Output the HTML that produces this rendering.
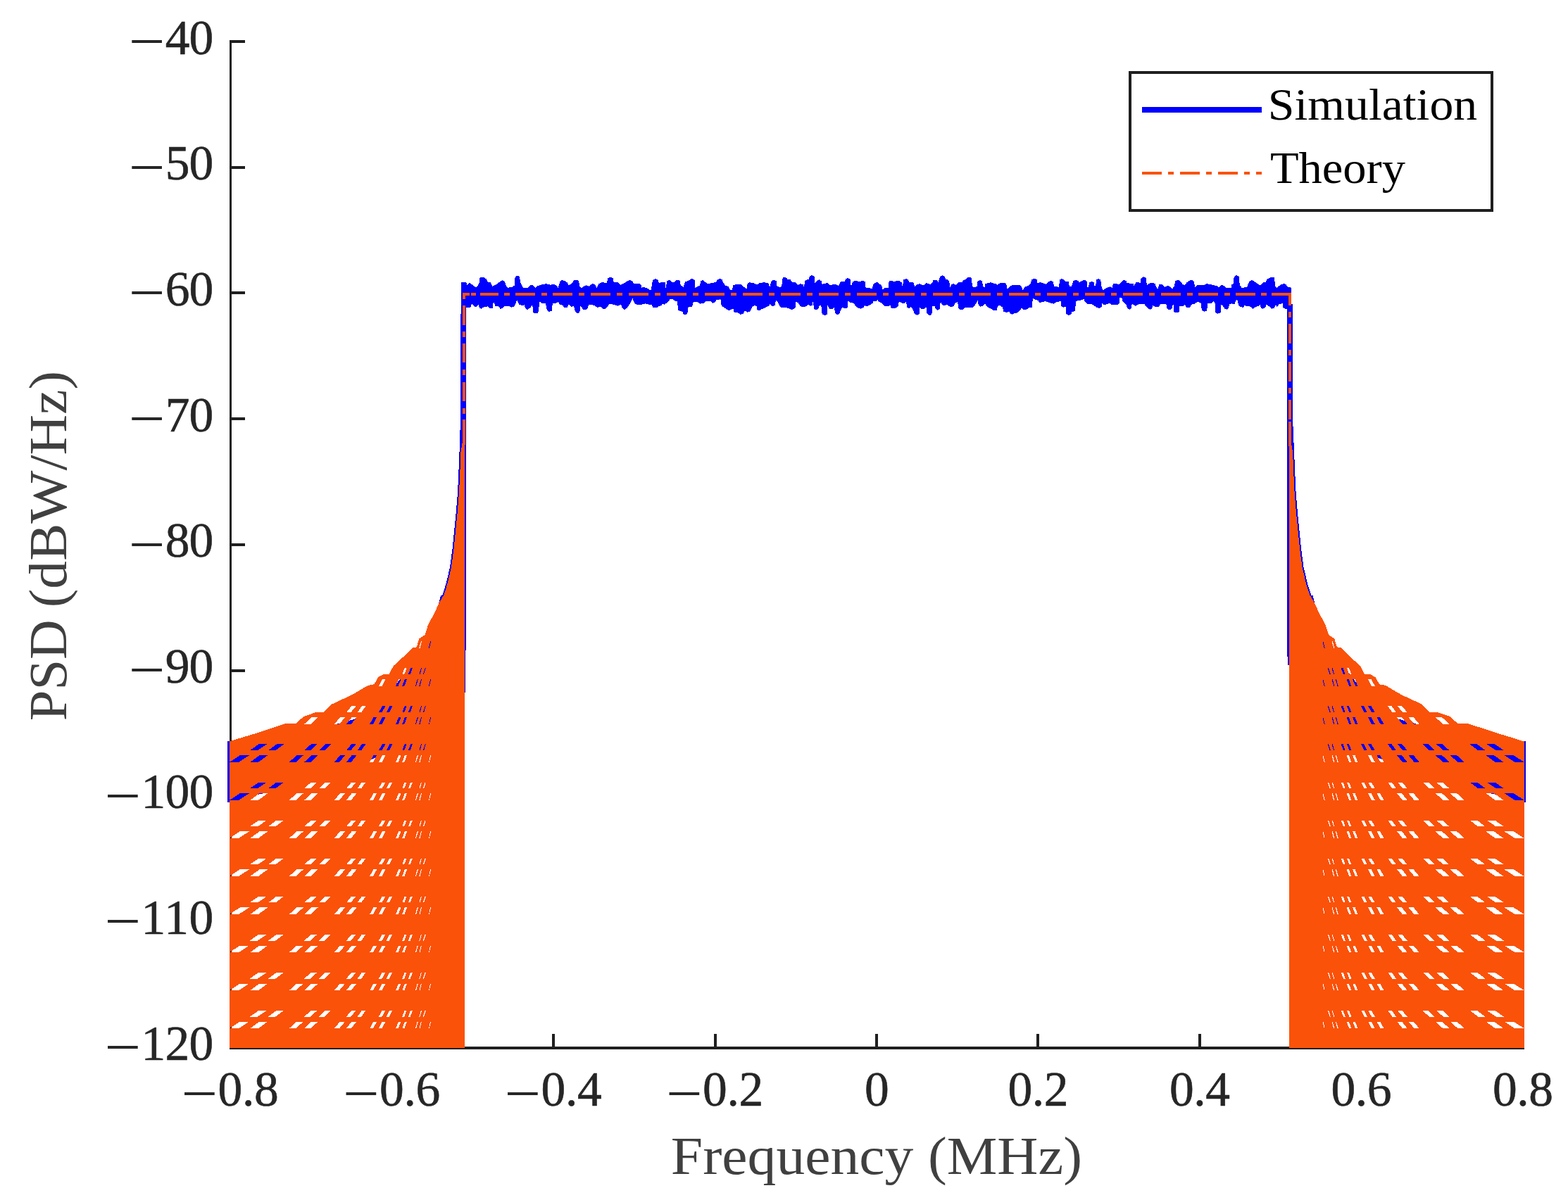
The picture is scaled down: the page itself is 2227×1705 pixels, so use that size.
<!DOCTYPE html>
<html lang="en"><head><meta charset="utf-8"><title>PSD: Simulation vs Theory</title>
<style>html,body{margin:0;padding:0;background:#fff;}body{width:2227px;height:1705px;}svg{display:block;}text{font-family:"Liberation Serif","DejaVu Serif",serif;}</style></head><body>
<svg width="2227" height="1705" viewBox="0 0 2227 1705">
<rect width="2227" height="1705" fill="#ffffff"/>
<g shape-rendering="crispEdges">
<rect x="326" y="57" width="3" height="1434" fill="#1f1f1f"/>
<rect x="326" y="1487" width="1839" height="4" fill="#1f1f1f"/>
<rect x="326" y="57.0" width="22" height="4" fill="#1f1f1f"/>
<rect x="326" y="236.0" width="22" height="4" fill="#1f1f1f"/>
<rect x="326" y="414.0" width="22" height="4" fill="#1f1f1f"/>
<rect x="326" y="593.0" width="22" height="4" fill="#1f1f1f"/>
<rect x="326" y="772.0" width="22" height="4" fill="#1f1f1f"/>
<rect x="326" y="951.0" width="22" height="4" fill="#1f1f1f"/>
<rect x="326" y="1130.0" width="22" height="4" fill="#1f1f1f"/>
<rect x="326" y="1308.0" width="22" height="4" fill="#1f1f1f"/>
<rect x="326" y="1487.0" width="22" height="4" fill="#1f1f1f"/>
<rect x="554.0" y="1469" width="4" height="19" fill="#1f1f1f"/>
<rect x="784.0" y="1469" width="4" height="19" fill="#1f1f1f"/>
<rect x="1014.0" y="1469" width="4" height="19" fill="#1f1f1f"/>
<rect x="1243.0" y="1469" width="4" height="19" fill="#1f1f1f"/>
<rect x="1472.0" y="1469" width="4" height="19" fill="#1f1f1f"/>
<rect x="1702.0" y="1469" width="4" height="19" fill="#1f1f1f"/>
<rect x="1932.0" y="1469" width="4" height="19" fill="#1f1f1f"/>
<polygon fill="#0000FF" points="323.2,1053.0 326.0,1053.0 354.0,1052.0 430.0,1042.0 470.0,1031.0 492.0,1025.0 506.0,1021.0 525.0,1014.0 530.0,1008.0 536.0,1000.0 552.0,985.0 565.0,969.0 572.0,960.0 578.5,951.0 590.0,936.0 604.0,915.0 615.0,890.0 622.0,862.0 626.2,845.6 628.2,845.6 633.6,829.2 639.1,805.5 642.5,780.0 645.0,755.0 647.5,730.0 650.0,700.0 651.2,675.0 652.5,642.5 654.2,590.0 654.2,446.0 655.0,446.0 655.0,420.0 662.0,420.0 662.0,924.0 661.2,924.0 661.2,984.0 659.0,984.0 640.0,1040.0 605.0,1067.0 560.0,1069.0 543.0,1073.5 530.0,1078.0 518.0,1084.0 506.0,1085.0 432.0,1100.0 420.0,1108.0 403.0,1121.0 380.0,1126.0 360.0,1130.0 354.0,1138.0 340.0,1140.0 323.2,1140.0"/>
<polygon fill="#0000FF" points="2167.4,1053.0 2164.6,1053.0 2136.6,1052.0 2060.6,1042.0 2020.6,1031.0 1998.6,1025.0 1984.6,1021.0 1965.6,1014.0 1960.6,1008.0 1954.6,1000.0 1938.6,985.0 1925.6,969.0 1918.6,960.0 1912.1,951.0 1900.6,936.0 1886.6,915.0 1875.6,890.0 1868.6,862.0 1864.4,845.6 1862.4,845.6 1857.0,829.2 1851.5,805.5 1848.1,780.0 1845.6,755.0 1843.1,730.0 1840.6,700.0 1839.4,675.0 1838.1,642.5 1835.8,590.0 1835.8,431.5 1834.0,431.5 1834.0,420.0 1828.0,420.0 1828.0,933.0 1828.8,933.0 1828.8,945.0 1831.0,945.0 1850.6,1040.0 1885.6,1067.0 1930.6,1069.0 1947.6,1073.5 1960.6,1078.0 1972.6,1084.0 1984.6,1085.0 2058.6,1100.0 2070.6,1108.0 2087.6,1121.0 2110.6,1126.0 2130.6,1130.0 2136.6,1138.0 2150.6,1140.0 2167.4,1140.0"/>
<polygon fill="#0000FF" points="655.0,446.0 655.0,401.2 661.9,401.2 663.5,404.6 667.3,401.9 670.8,404.6 676.2,408.7 680.3,403.2 681.7,394.4 687.2,393.7 691.3,397.1 692.6,400.5 696.7,401.2 699.5,406.7 704.3,404.6 709.7,400.5 713.8,398.2 716.6,399.8 718.6,405.3 720.7,408.7 727.5,408.0 730.9,405.3 731.6,393.0 734.4,391.6 737.8,393.0 739.8,403.2 743.2,408.7 749.4,408.7 752.8,405.3 756.9,405.3 760.3,408.7 763.8,406.0 769.9,404.3 776.1,403.2 781.5,404.6 787.7,404.3 791.1,406.0 792.5,408.7 795.2,400.5 797.9,397.8 802.7,399.1 806.1,401.9 807.5,405.3 811.6,403.2 815.0,398.5 818.4,397.5 821.9,399.1 823.2,406.0 825.3,409.4 829.4,406.7 832.8,405.3 836.9,406.7 839.6,403.9 842.4,403.2 845.8,405.3 847.2,409.4 850.6,403.2 854.7,401.2 861.5,401.9 863.6,395.0 867.0,393.3 870.4,395.0 871.8,401.2 875.9,400.5 879.3,402.6 881.4,404.6 886.1,402.6 891.6,399.1 895.0,397.8 898.4,399.8 899.8,403.2 906.0,402.6 910.1,403.9 911.4,408.7 914.9,408.0 920.3,410.1 924.4,412.8 927.2,397.8 931.3,396.1 934.7,397.8 936.0,402.6 940.0,400.5 940.0,400.5 944.8,401.2 945.5,409.4 947.5,399.1 950.9,397.8 954.4,400.5 958.5,400.5 960.5,397.8 965.3,398.5 966.7,405.3 970.8,408.0 972.8,400.5 976.9,399.1 980.3,397.1 983.1,395.7 986.5,397.8 987.2,408.7 991.3,406.7 994.0,406.0 995.4,399.1 998.8,398.1 1001.5,400.5 1005.6,403.5 1011.1,401.9 1016.6,401.2 1018.6,397.8 1022.0,396.0 1025.5,397.1 1027.5,401.9 1030.3,406.0 1034.4,406.7 1037.1,412.1 1039.8,412.1 1041.2,405.3 1044.6,404.2 1052.1,404.2 1056.2,407.3 1060.3,410.8 1061.7,402.6 1065.1,401.2 1071.3,402.6 1075.4,404.6 1078.1,402.2 1084.9,401.2 1091.1,402.2 1093.2,408.0 1095.2,399.8 1098.6,397.8 1102.7,399.1 1103.4,406.0 1107.5,408.0 1110.2,406.7 1111.6,394.8 1114.3,393.7 1117.8,395.0 1118.4,397.1 1122.6,397.5 1125.3,401.2 1129.4,401.2 1133.5,404.6 1136.9,403.2 1140.3,403.9 1141.7,408.0 1143.7,397.8 1148.5,397.1 1149.9,392.3 1153.3,390.9 1156.7,393.0 1157.4,402.6 1160.2,399.1 1163.6,397.4 1167.0,399.8 1167.7,403.9 1172.5,402.6 1175.9,402.2 1179.3,405.3 1184.8,403.9 1188.9,404.6 1190.9,406.7 1193.7,400.5 1199.8,399.8 1201.2,396.4 1204.6,395.0 1208.0,397.1 1208.7,407.3 1211.4,399.8 1216.2,399.1 1221.0,400.5 1225.8,398.5 1228.8,400.5 1229.6,408.7 1235.4,409.4 1238.1,410.8 1240.0,405.3 1240.0,405.3 1242.1,401.9 1246.2,401.2 1249.6,403.9 1252.3,405.3 1253.3,411.5 1256.4,409.4 1261.9,409.0 1262.6,399.8 1266.0,398.5 1269.4,400.5 1272.8,399.1 1278.3,399.4 1281.0,401.9 1281.7,408.0 1283.5,397.1 1287.2,396.0 1289.9,397.1 1291.3,400.5 1296.1,400.5 1298.1,403.2 1299.1,407.3 1302.2,404.3 1306.3,403.2 1309.7,404.9 1313.2,404.6 1315.2,402.2 1319.3,403.0 1321.4,404.3 1324.1,401.9 1325.5,398.5 1328.9,397.4 1331.6,399.1 1332.3,401.9 1335.0,393.0 1338.5,391.2 1341.9,393.0 1343.2,397.1 1347.3,397.8 1348.7,403.2 1349.4,408.0 1351.4,403.9 1354.9,403.2 1357.6,404.6 1361.0,401.2 1366.5,401.2 1367.9,397.8 1371.3,397.4 1374.0,394.4 1377.4,393.7 1380.2,395.7 1380.8,406.7 1382.9,408.0 1387.7,407.3 1388.4,399.8 1391.8,398.1 1395.2,399.8 1395.9,407.3 1398.6,408.0 1399.3,403.2 1404.1,401.9 1407.5,401.2 1410.9,402.6 1414.3,403.2 1416.4,405.3 1419.1,402.6 1423.2,402.2 1426.7,401.5 1429.4,403.9 1430.1,410.8 1434.2,407.3 1438.3,404.6 1443.7,404.9 1447.8,404.6 1450.6,406.7 1452.6,412.1 1456.1,407.3 1460.2,406.3 1463.6,402.6 1465.6,397.1 1469.0,395.3 1472.5,397.1 1473.1,401.9 1477.9,401.2 1482.7,402.6 1486.1,403.9 1489.6,399.8 1493.0,398.7 1495.7,400.5 1497.1,406.7 1501.9,407.3 1503.9,408.0 1505.3,397.1 1508.7,396.0 1511.4,397.8 1512.8,399.8 1517.6,399.8 1519.0,407.3 1521.7,407.3 1524.4,399.1 1527.8,397.4 1531.3,399.1 1532.6,401.2 1536.7,399.1 1540.0,397.8 1540.0,397.8 1543.4,399.1 1544.1,407.3 1546.2,408.7 1546.8,401.2 1550.3,399.8 1553.7,401.2 1554.4,406.0 1556.4,406.0 1556.7,397.8 1559.8,396.0 1563.2,397.8 1564.6,408.0 1566.7,412.8 1569.4,410.1 1573.5,408.0 1576.9,407.3 1579.7,408.7 1581.0,403.2 1585.1,402.6 1589.2,404.6 1592.6,400.5 1596.1,397.8 1599.5,399.1 1600.2,401.9 1605.0,402.6 1609.7,403.2 1610.4,406.0 1613.2,401.5 1617.9,401.2 1619.3,403.2 1620.7,395.0 1624.1,393.3 1627.5,395.0 1628.9,405.3 1631.6,403.0 1637.1,401.5 1640.5,403.2 1643.2,409.4 1644.6,410.1 1646.0,404.6 1649.4,403.5 1652.1,405.3 1654.2,408.0 1657.6,406.3 1661.7,406.7 1665.1,410.8 1667.9,406.0 1669.2,399.1 1673.3,397.4 1676.1,399.1 1679.5,403.9 1682.9,405.3 1685.6,401.2 1689.7,398.5 1692.5,397.8 1695.9,399.8 1697.3,408.7 1700.7,404.9 1705.5,404.6 1709.6,404.9 1714.3,403.2 1719.1,403.9 1724.6,405.3 1729.4,406.7 1730.8,408.7 1733.5,405.6 1736.9,405.0 1741.0,408.7 1748.5,409.0 1749.2,404.6 1752.0,403.2 1752.6,393.0 1756.1,391.2 1759.5,393.0 1760.8,404.6 1763.6,408.7 1771.1,408.3 1772.5,403.9 1775.2,399.1 1778.6,398.1 1782.0,400.5 1786.1,403.2 1790.2,405.6 1793.0,401.9 1797.8,400.5 1799.1,397.1 1804.6,394.1 1810.1,394.1 1811.0,406.0 1813.5,408.7 1816.2,406.7 1820.3,403.9 1823.7,403.0 1827.2,404.6 1827.8,407.3 1832.6,408.0 1834.0,409.4 1834.0,446.0 1834.0,439.1 1828.5,439.1 1825.1,438.8 1822.4,436.7 1821.7,431.3 1816.9,432.0 1813.5,436.1 1812.1,432.6 1810.1,437.4 1806.6,438.8 1802.5,435.4 1798.4,432.6 1797.1,437.2 1793.7,438.8 1790.9,437.4 1789.6,432.6 1787.5,434.7 1783.4,436.3 1779.3,438.8 1775.2,435.4 1771.1,435.4 1767.7,434.0 1765.6,436.7 1762.2,436.3 1758.8,433.3 1758.1,427.2 1756.1,425.8 1753.3,432.2 1749.2,431.3 1745.8,432.6 1745.1,438.1 1742.4,439.8 1739.6,438.8 1736.9,434.7 1734.2,432.6 1733.5,444.3 1729.4,445.9 1726.2,444.3 1726.0,432.6 1723.9,427.9 1720.5,430.6 1715.0,430.6 1714.3,441.5 1710.2,442.9 1706.8,440.2 1705.5,430.6 1702.0,429.0 1699.3,429.9 1695.9,432.0 1692.5,432.6 1690.4,436.1 1687.0,437.7 1684.3,436.1 1682.9,432.6 1679.5,435.4 1675.4,434.7 1674.7,443.2 1670.6,444.5 1667.2,442.9 1666.5,433.3 1665.1,434.0 1664.4,438.8 1661.0,440.4 1657.6,438.8 1656.9,432.6 1652.1,431.7 1648.0,432.6 1645.3,436.1 1641.2,436.1 1637.1,434.0 1636.4,438.1 1633.0,439.8 1630.3,438.1 1626.8,434.7 1625.5,432.0 1622.0,431.7 1616.6,432.6 1612.5,434.7 1607.7,431.3 1607.0,438.1 1604.3,439.8 1600.9,438.1 1600.2,433.3 1597.4,431.3 1594.0,427.9 1593.3,422.4 1590.3,423.1 1589.9,430.6 1587.9,432.6 1578.3,432.6 1576.2,430.9 1572.8,432.0 1568.0,433.3 1565.3,431.3 1564.6,436.1 1561.2,437.7 1557.1,436.7 1553.0,433.3 1548.9,431.7 1544.1,432.0 1540.0,427.9 1540.0,425.1 1536.7,425.8 1532.6,427.2 1527.8,427.9 1527.2,442.2 1522.4,442.9 1521.7,446.3 1517.6,448.0 1514.2,445.6 1513.5,436.1 1510.1,436.7 1507.3,435.4 1506.6,428.1 1501.2,429.0 1496.4,431.7 1490.2,429.9 1484.8,427.9 1480.0,429.2 1476.6,430.6 1474.5,427.2 1471.1,425.8 1467.0,423.8 1465.6,436.7 1461.5,437.4 1457.4,440.2 1453.3,440.2 1450.6,437.4 1448.5,441.5 1445.1,444.3 1441.0,445.0 1437.6,447.0 1434.9,445.6 1433.5,442.9 1429.4,444.0 1425.3,442.9 1423.9,436.7 1420.5,434.0 1417.1,434.7 1415.7,440.9 1411.6,441.3 1407.5,438.8 1404.1,437.2 1400.7,434.7 1399.3,431.3 1395.9,434.7 1392.5,435.8 1389.7,432.6 1388.4,426.5 1387.0,429.9 1383.6,435.4 1380.8,437.4 1374.7,437.4 1371.3,436.7 1367.9,439.5 1363.8,439.8 1361.0,437.4 1360.3,429.2 1356.9,430.3 1354.9,434.7 1351.4,436.3 1347.3,434.7 1344.6,432.6 1341.2,434.7 1337.8,432.6 1335.7,427.9 1335.0,439.1 1331.6,440.9 1328.9,439.1 1327.5,434.7 1324.1,435.4 1323.4,447.0 1320.0,448.4 1316.6,445.6 1314.9,432.6 1314.5,437.4 1311.8,439.5 1309.1,439.1 1305.9,436.7 1305.6,446.3 1302.2,447.7 1298.8,445.6 1296.1,438.8 1294.0,436.1 1290.6,438.1 1287.9,436.1 1287.2,428.5 1285.1,430.6 1281.0,430.6 1276.9,428.5 1275.6,435.4 1270.1,438.5 1266.0,438.1 1264.6,434.0 1261.2,435.4 1257.1,435.4 1253.0,431.3 1248.2,428.5 1246.2,425.8 1244.8,427.9 1240.0,428.5 1240.0,430.6 1236.7,432.6 1231.9,435.4 1227.8,434.0 1226.5,436.7 1222.4,438.8 1216.9,436.7 1214.2,433.3 1212.1,430.6 1208.0,430.3 1204.6,426.5 1203.9,437.4 1199.8,438.1 1196.4,436.7 1194.3,440.2 1192.3,445.6 1188.9,447.7 1186.1,445.0 1184.8,436.7 1182.7,439.5 1177.9,438.8 1175.2,433.3 1174.5,447.0 1171.1,448.4 1167.7,446.3 1166.3,434.0 1163.6,434.7 1162.2,438.8 1158.8,440.4 1156.1,438.8 1154.7,427.9 1154.0,433.3 1151.3,434.7 1147.2,432.6 1145.1,435.4 1139.6,436.3 1136.2,434.7 1133.5,429.9 1130.1,429.2 1129.4,438.1 1124.6,440.2 1121.9,438.8 1117.8,437.4 1110.2,437.4 1108.2,436.1 1105.5,430.6 1102.0,426.5 1100.7,434.0 1097.3,435.4 1093.8,432.0 1091.8,434.7 1087.7,436.7 1082.2,439.1 1078.1,441.5 1075.4,440.2 1074.7,435.4 1071.3,434.0 1067.9,436.7 1065.1,442.9 1061.0,443.6 1059.0,441.5 1057.6,442.2 1055.5,446.3 1051.4,446.7 1048.0,444.3 1042.6,443.6 1041.2,438.1 1038.5,440.2 1034.4,440.9 1028.9,437.4 1024.8,434.7 1023.4,425.4 1017.9,425.8 1015.9,429.2 1012.5,430.6 1009.7,427.9 1002.9,427.9 999.5,430.6 994.0,431.7 991.3,429.5 987.9,428.5 984.4,429.9 983.1,436.1 977.6,436.1 976.9,442.9 974.9,447.0 970.8,447.0 969.4,442.9 963.2,440.9 961.9,427.9 959.1,427.9 955.7,425.4 951.6,425.1 948.2,429.9 943.4,432.6 940.0,432.0 940.0,434.0 936.7,434.7 932.6,437.4 927.8,437.4 925.8,433.3 921.7,432.6 916.2,431.3 912.1,432.6 903.9,432.6 901.2,430.6 898.4,423.8 894.3,432.0 890.2,438.1 886.8,439.9 884.1,438.1 882.0,432.6 877.9,434.7 871.1,432.6 865.6,432.0 861.5,437.4 858.8,439.5 856.1,438.8 853.3,436.1 847.8,436.7 845.1,434.7 840.3,432.6 836.2,432.6 834.2,438.8 830.8,440.6 828.0,439.5 824.6,434.7 823.2,444.3 819.8,445.0 817.1,442.9 815.0,434.7 812.3,436.1 807.5,432.6 805.5,437.4 801.4,437.4 799.3,434.0 795.2,432.6 792.5,429.2 789.7,430.6 784.9,431.3 783.6,441.5 779.5,442.9 776.7,440.2 774.7,430.6 769.9,431.3 766.5,428.5 764.4,444.3 761.0,445.6 757.6,444.3 756.2,433.3 752.8,437.4 749.4,440.2 746.7,438.8 744.6,433.3 741.2,434.0 737.1,432.6 734.4,426.5 730.3,435.4 726.1,436.7 722.0,434.7 715.9,435.4 713.8,438.1 710.4,438.8 708.4,435.4 703.6,434.7 700.9,428.5 699.5,438.1 696.1,438.1 692.6,435.4 687.2,436.1 683.8,438.8 681.0,437.4 679.7,433.3 676.9,436.1 673.5,435.4 670.1,431.3 668.0,437.4 661.9,437.4 655.0,437.4"/>
<path fill="#FA5209" fill-rule="evenodd" d="M326.0 1489.2 L326.0 1053.5 L340.0 1049.0 L360.0 1043.0 L380.0 1036.5 L405.7 1028.0 L420.3 1028.0 L431.3 1018.0 L447.7 1012.4 L460.4 1011.5 L471.4 1000.5 L500.5 987.0 L522.4 974.0 L531.5 972.3 L537.0 962.3 L544.3 958.2 L552.5 957.7 L558.9 946.0 L577.1 929.4 L586.2 920.3 L591.7 919.4 L595.3 907.6 L603.6 902.0 L608.1 887.5 L617.2 871.0 L623.6 856.5 L630.2 845.6 L635.6 829.2 L641.1 805.5 L644.5 780.0 L647.0 755.0 L649.5 730.0 L652.0 700.0 L653.2 675.0 L654.5 642.5 L656.5 630.0 L659.5 630.0 L659.5 924.0 L660.0 924.0 L660.0 1489.2Z M595.4 920.6 L596.5 920.6 L599.0 911.1 L597.9 911.1Z M609.0 920.6 L609.9 920.6 L612.1 911.1 L611.2 911.1Z M571.3 958.1 L574.2 958.1 L577.5 949.3 L574.6 949.3Z M579.9 958.1 L582.7 958.1 L585.9 949.3 L583.1 949.3Z M595.4 958.1 L596.5 958.1 L599.0 949.3 L597.9 949.3Z M600.8 958.1 L602.0 958.1 L604.8 949.3 L603.6 949.3Z M537.9 974.7 L542.5 974.7 L547.6 965.1 L543.0 965.1Z M562.2 974.7 L565.6 974.7 L569.5 965.1 L566.1 965.1Z M571.3 974.7 L574.4 974.7 L578.0 965.1 L574.9 965.1Z M589.9 974.7 L591.1 974.7 L593.9 965.1 L592.7 965.1Z M595.4 974.7 L596.5 974.7 L599.0 965.1 L597.9 965.1Z M609.0 974.7 L609.9 974.7 L612.1 965.1 L611.2 965.1Z M492.0 1012.2 L498.3 1012.2 L505.5 1003.4 L499.2 1003.4Z M507.8 1012.2 L513.2 1012.2 L519.3 1003.4 L513.9 1003.4Z M537.9 1012.2 L542.4 1012.2 L547.4 1003.4 L542.9 1003.4Z M548.9 1012.2 L552.9 1012.2 L557.4 1003.4 L553.4 1003.4Z M571.3 1012.2 L574.2 1012.2 L577.5 1003.4 L574.6 1003.4Z M579.9 1012.2 L582.7 1012.2 L585.9 1003.4 L583.1 1003.4Z M595.4 1012.2 L596.5 1012.2 L599.0 1003.4 L597.9 1003.4Z M600.8 1012.2 L602.0 1012.2 L604.8 1003.4 L603.6 1003.4Z M432.2 1028.8 L441.4 1028.8 L451.7 1019.2 L442.5 1019.2Z M475.0 1028.8 L482.1 1028.8 L490.0 1019.2 L482.9 1019.2Z M492.0 1028.8 L498.8 1028.8 L506.4 1019.2 L499.6 1019.2Z M525.2 1028.8 L529.9 1028.8 L535.2 1019.2 L530.5 1019.2Z M537.9 1028.8 L542.5 1028.8 L547.6 1019.2 L543.0 1019.2Z M562.2 1028.8 L565.6 1028.8 L569.5 1019.2 L566.1 1019.2Z M571.3 1028.8 L574.4 1028.8 L578.0 1019.2 L574.9 1019.2Z M589.9 1028.8 L591.1 1028.8 L593.9 1019.2 L592.7 1019.2Z M595.4 1028.8 L596.5 1028.8 L599.0 1019.2 L597.9 1019.2Z M609.0 1028.8 L609.9 1028.8 L612.1 1019.2 L611.2 1019.2Z M354.7 1066.2 L366.0 1066.2 L378.8 1057.4 L367.5 1057.4Z M381.1 1066.2 L391.4 1066.2 L403.0 1057.4 L392.7 1057.4Z M432.2 1066.2 L440.8 1066.2 L450.4 1057.4 L441.8 1057.4Z M453.1 1066.2 L461.0 1066.2 L469.9 1057.4 L462.0 1057.4Z M492.0 1066.2 L498.3 1066.2 L505.5 1057.4 L499.2 1057.4Z M507.8 1066.2 L513.2 1066.2 L519.3 1057.4 L513.9 1057.4Z M537.9 1066.2 L542.4 1066.2 L547.4 1057.4 L542.9 1057.4Z M548.9 1066.2 L552.9 1066.2 L557.4 1057.4 L553.4 1057.4Z M571.3 1066.2 L574.2 1066.2 L577.5 1057.4 L574.6 1057.4Z M579.9 1066.2 L582.7 1066.2 L585.9 1057.4 L583.1 1057.4Z M595.4 1066.2 L596.5 1066.2 L599.0 1057.4 L597.9 1057.4Z M600.8 1066.2 L602.0 1066.2 L604.8 1057.4 L603.6 1057.4Z M326.0 1082.8 L339.2 1082.8 L354.0 1073.2 L340.8 1073.2Z M355.5 1082.8 L367.1 1082.8 L380.2 1073.2 L368.6 1073.2Z M410.8 1082.8 L420.2 1082.8 L430.9 1073.2 L421.5 1073.2Z M432.2 1082.8 L441.4 1082.8 L451.7 1073.2 L442.5 1073.2Z M475.0 1082.8 L482.1 1082.8 L490.0 1073.2 L482.9 1073.2Z M492.0 1082.8 L498.8 1082.8 L506.4 1073.2 L499.6 1073.2Z M525.2 1082.8 L529.9 1082.8 L535.2 1073.2 L530.5 1073.2Z M537.9 1082.8 L542.5 1082.8 L547.6 1073.2 L543.0 1073.2Z M562.2 1082.8 L565.6 1082.8 L569.5 1073.2 L566.1 1073.2Z M571.3 1082.8 L574.4 1082.8 L578.0 1073.2 L574.9 1073.2Z M589.9 1082.8 L591.1 1082.8 L593.9 1073.2 L592.7 1073.2Z M595.4 1082.8 L596.5 1082.8 L599.0 1073.2 L597.9 1073.2Z M609.0 1082.8 L609.9 1082.8 L612.1 1073.2 L611.2 1073.2Z M354.7 1120.2 L366.0 1120.2 L378.8 1111.5 L367.5 1111.5Z M381.1 1120.2 L391.4 1120.2 L403.0 1111.5 L392.7 1111.5Z M432.2 1120.2 L440.8 1120.2 L450.4 1111.5 L441.8 1111.5Z M453.1 1120.2 L461.0 1120.2 L469.9 1111.5 L462.0 1111.5Z M492.0 1120.2 L498.3 1120.2 L505.5 1111.5 L499.2 1111.5Z M507.8 1120.2 L513.2 1120.2 L519.3 1111.5 L513.9 1111.5Z M537.9 1120.2 L542.4 1120.2 L547.4 1111.5 L542.9 1111.5Z M548.9 1120.2 L552.9 1120.2 L557.4 1111.5 L553.4 1111.5Z M571.3 1120.2 L574.2 1120.2 L577.5 1111.5 L574.6 1111.5Z M579.9 1120.2 L582.7 1120.2 L585.9 1111.5 L583.1 1111.5Z M595.4 1120.2 L596.5 1120.2 L599.0 1111.5 L597.9 1111.5Z M600.8 1120.2 L602.0 1120.2 L604.8 1111.5 L603.6 1111.5Z M326.0 1136.8 L339.2 1136.8 L354.0 1127.2 L340.8 1127.2Z M355.5 1136.8 L367.1 1136.8 L380.2 1127.2 L368.6 1127.2Z M410.8 1136.8 L420.2 1136.8 L430.9 1127.2 L421.5 1127.2Z M432.2 1136.8 L441.4 1136.8 L451.7 1127.2 L442.5 1127.2Z M475.0 1136.8 L482.1 1136.8 L490.0 1127.2 L482.9 1127.2Z M492.0 1136.8 L498.8 1136.8 L506.4 1127.2 L499.6 1127.2Z M525.2 1136.8 L529.9 1136.8 L535.2 1127.2 L530.5 1127.2Z M537.9 1136.8 L542.5 1136.8 L547.6 1127.2 L543.0 1127.2Z M562.2 1136.8 L565.6 1136.8 L569.5 1127.2 L566.1 1127.2Z M571.3 1136.8 L574.4 1136.8 L578.0 1127.2 L574.9 1127.2Z M589.9 1136.8 L591.1 1136.8 L593.9 1127.2 L592.7 1127.2Z M595.4 1136.8 L596.5 1136.8 L599.0 1127.2 L597.9 1127.2Z M609.0 1136.8 L609.9 1136.8 L612.1 1127.2 L611.2 1127.2Z M354.7 1174.3 L366.0 1174.3 L378.8 1165.5 L367.5 1165.5Z M381.1 1174.3 L391.4 1174.3 L403.0 1165.5 L392.7 1165.5Z M432.2 1174.3 L440.8 1174.3 L450.4 1165.5 L441.8 1165.5Z M453.1 1174.3 L461.0 1174.3 L469.9 1165.5 L462.0 1165.5Z M492.0 1174.3 L498.3 1174.3 L505.5 1165.5 L499.2 1165.5Z M507.8 1174.3 L513.2 1174.3 L519.3 1165.5 L513.9 1165.5Z M537.9 1174.3 L542.4 1174.3 L547.4 1165.5 L542.9 1165.5Z M548.9 1174.3 L552.9 1174.3 L557.4 1165.5 L553.4 1165.5Z M571.3 1174.3 L574.2 1174.3 L577.5 1165.5 L574.6 1165.5Z M579.9 1174.3 L582.7 1174.3 L585.9 1165.5 L583.1 1165.5Z M595.4 1174.3 L596.5 1174.3 L599.0 1165.5 L597.9 1165.5Z M600.8 1174.3 L602.0 1174.3 L604.8 1165.5 L603.6 1165.5Z M326.0 1190.9 L339.2 1190.9 L354.0 1181.3 L340.8 1181.3Z M355.5 1190.9 L367.1 1190.9 L380.2 1181.3 L368.6 1181.3Z M410.8 1190.9 L420.2 1190.9 L430.9 1181.3 L421.5 1181.3Z M432.2 1190.9 L441.4 1190.9 L451.7 1181.3 L442.5 1181.3Z M475.0 1190.9 L482.1 1190.9 L490.0 1181.3 L482.9 1181.3Z M492.0 1190.9 L498.8 1190.9 L506.4 1181.3 L499.6 1181.3Z M525.2 1190.9 L529.9 1190.9 L535.2 1181.3 L530.5 1181.3Z M537.9 1190.9 L542.5 1190.9 L547.6 1181.3 L543.0 1181.3Z M562.2 1190.9 L565.6 1190.9 L569.5 1181.3 L566.1 1181.3Z M571.3 1190.9 L574.4 1190.9 L578.0 1181.3 L574.9 1181.3Z M589.9 1190.9 L591.1 1190.9 L593.9 1181.3 L592.7 1181.3Z M595.4 1190.9 L596.5 1190.9 L599.0 1181.3 L597.9 1181.3Z M609.0 1190.9 L609.9 1190.9 L612.1 1181.3 L611.2 1181.3Z M354.7 1228.3 L366.0 1228.3 L378.8 1219.6 L367.5 1219.6Z M381.1 1228.3 L391.4 1228.3 L403.0 1219.6 L392.7 1219.6Z M432.2 1228.3 L440.8 1228.3 L450.4 1219.6 L441.8 1219.6Z M453.1 1228.3 L461.0 1228.3 L469.9 1219.6 L462.0 1219.6Z M492.0 1228.3 L498.3 1228.3 L505.5 1219.6 L499.2 1219.6Z M507.8 1228.3 L513.2 1228.3 L519.3 1219.6 L513.9 1219.6Z M537.9 1228.3 L542.4 1228.3 L547.4 1219.6 L542.9 1219.6Z M548.9 1228.3 L552.9 1228.3 L557.4 1219.6 L553.4 1219.6Z M571.3 1228.3 L574.2 1228.3 L577.5 1219.6 L574.6 1219.6Z M579.9 1228.3 L582.7 1228.3 L585.9 1219.6 L583.1 1219.6Z M595.4 1228.3 L596.5 1228.3 L599.0 1219.6 L597.9 1219.6Z M600.8 1228.3 L602.0 1228.3 L604.8 1219.6 L603.6 1219.6Z M326.0 1244.9 L339.2 1244.9 L354.0 1235.3 L340.8 1235.3Z M355.5 1244.9 L367.1 1244.9 L380.2 1235.3 L368.6 1235.3Z M410.8 1244.9 L420.2 1244.9 L430.9 1235.3 L421.5 1235.3Z M432.2 1244.9 L441.4 1244.9 L451.7 1235.3 L442.5 1235.3Z M475.0 1244.9 L482.1 1244.9 L490.0 1235.3 L482.9 1235.3Z M492.0 1244.9 L498.8 1244.9 L506.4 1235.3 L499.6 1235.3Z M525.2 1244.9 L529.9 1244.9 L535.2 1235.3 L530.5 1235.3Z M537.9 1244.9 L542.5 1244.9 L547.6 1235.3 L543.0 1235.3Z M562.2 1244.9 L565.6 1244.9 L569.5 1235.3 L566.1 1235.3Z M571.3 1244.9 L574.4 1244.9 L578.0 1235.3 L574.9 1235.3Z M589.9 1244.9 L591.1 1244.9 L593.9 1235.3 L592.7 1235.3Z M595.4 1244.9 L596.5 1244.9 L599.0 1235.3 L597.9 1235.3Z M609.0 1244.9 L609.9 1244.9 L612.1 1235.3 L611.2 1235.3Z M354.7 1282.4 L366.0 1282.4 L378.8 1273.6 L367.5 1273.6Z M381.1 1282.4 L391.4 1282.4 L403.0 1273.6 L392.7 1273.6Z M432.2 1282.4 L440.8 1282.4 L450.4 1273.6 L441.8 1273.6Z M453.1 1282.4 L461.0 1282.4 L469.9 1273.6 L462.0 1273.6Z M492.0 1282.4 L498.3 1282.4 L505.5 1273.6 L499.2 1273.6Z M507.8 1282.4 L513.2 1282.4 L519.3 1273.6 L513.9 1273.6Z M537.9 1282.4 L542.4 1282.4 L547.4 1273.6 L542.9 1273.6Z M548.9 1282.4 L552.9 1282.4 L557.4 1273.6 L553.4 1273.6Z M571.3 1282.4 L574.2 1282.4 L577.5 1273.6 L574.6 1273.6Z M579.9 1282.4 L582.7 1282.4 L585.9 1273.6 L583.1 1273.6Z M595.4 1282.4 L596.5 1282.4 L599.0 1273.6 L597.9 1273.6Z M600.8 1282.4 L602.0 1282.4 L604.8 1273.6 L603.6 1273.6Z M326.0 1299.0 L339.2 1299.0 L354.0 1289.4 L340.8 1289.4Z M355.5 1299.0 L367.1 1299.0 L380.2 1289.4 L368.6 1289.4Z M410.8 1299.0 L420.2 1299.0 L430.9 1289.4 L421.5 1289.4Z M432.2 1299.0 L441.4 1299.0 L451.7 1289.4 L442.5 1289.4Z M475.0 1299.0 L482.1 1299.0 L490.0 1289.4 L482.9 1289.4Z M492.0 1299.0 L498.8 1299.0 L506.4 1289.4 L499.6 1289.4Z M525.2 1299.0 L529.9 1299.0 L535.2 1289.4 L530.5 1289.4Z M537.9 1299.0 L542.5 1299.0 L547.6 1289.4 L543.0 1289.4Z M562.2 1299.0 L565.6 1299.0 L569.5 1289.4 L566.1 1289.4Z M571.3 1299.0 L574.4 1299.0 L578.0 1289.4 L574.9 1289.4Z M589.9 1299.0 L591.1 1299.0 L593.9 1289.4 L592.7 1289.4Z M595.4 1299.0 L596.5 1299.0 L599.0 1289.4 L597.9 1289.4Z M609.0 1299.0 L609.9 1299.0 L612.1 1289.4 L611.2 1289.4Z M354.7 1336.5 L366.0 1336.5 L378.8 1327.7 L367.5 1327.7Z M381.1 1336.5 L391.4 1336.5 L403.0 1327.7 L392.7 1327.7Z M432.2 1336.5 L440.8 1336.5 L450.4 1327.7 L441.8 1327.7Z M453.1 1336.5 L461.0 1336.5 L469.9 1327.7 L462.0 1327.7Z M492.0 1336.5 L498.3 1336.5 L505.5 1327.7 L499.2 1327.7Z M507.8 1336.5 L513.2 1336.5 L519.3 1327.7 L513.9 1327.7Z M537.9 1336.5 L542.4 1336.5 L547.4 1327.7 L542.9 1327.7Z M548.9 1336.5 L552.9 1336.5 L557.4 1327.7 L553.4 1327.7Z M571.3 1336.5 L574.2 1336.5 L577.5 1327.7 L574.6 1327.7Z M579.9 1336.5 L582.7 1336.5 L585.9 1327.7 L583.1 1327.7Z M595.4 1336.5 L596.5 1336.5 L599.0 1327.7 L597.9 1327.7Z M600.8 1336.5 L602.0 1336.5 L604.8 1327.7 L603.6 1327.7Z M326.0 1353.0 L339.2 1353.0 L354.0 1343.5 L340.8 1343.5Z M355.5 1353.0 L367.1 1353.0 L380.2 1343.5 L368.6 1343.5Z M410.8 1353.0 L420.2 1353.0 L430.9 1343.5 L421.5 1343.5Z M432.2 1353.0 L441.4 1353.0 L451.7 1343.5 L442.5 1343.5Z M475.0 1353.0 L482.1 1353.0 L490.0 1343.5 L482.9 1343.5Z M492.0 1353.0 L498.8 1353.0 L506.4 1343.5 L499.6 1343.5Z M525.2 1353.0 L529.9 1353.0 L535.2 1343.5 L530.5 1343.5Z M537.9 1353.0 L542.5 1353.0 L547.6 1343.5 L543.0 1343.5Z M562.2 1353.0 L565.6 1353.0 L569.5 1343.5 L566.1 1343.5Z M571.3 1353.0 L574.4 1353.0 L578.0 1343.5 L574.9 1343.5Z M589.9 1353.0 L591.1 1353.0 L593.9 1343.5 L592.7 1343.5Z M595.4 1353.0 L596.5 1353.0 L599.0 1343.5 L597.9 1343.5Z M609.0 1353.0 L609.9 1353.0 L612.1 1343.5 L611.2 1343.5Z M354.7 1390.5 L366.0 1390.5 L378.8 1381.7 L367.5 1381.7Z M381.1 1390.5 L391.4 1390.5 L403.0 1381.7 L392.7 1381.7Z M432.2 1390.5 L440.8 1390.5 L450.4 1381.7 L441.8 1381.7Z M453.1 1390.5 L461.0 1390.5 L469.9 1381.7 L462.0 1381.7Z M492.0 1390.5 L498.3 1390.5 L505.5 1381.7 L499.2 1381.7Z M507.8 1390.5 L513.2 1390.5 L519.3 1381.7 L513.9 1381.7Z M537.9 1390.5 L542.4 1390.5 L547.4 1381.7 L542.9 1381.7Z M548.9 1390.5 L552.9 1390.5 L557.4 1381.7 L553.4 1381.7Z M571.3 1390.5 L574.2 1390.5 L577.5 1381.7 L574.6 1381.7Z M579.9 1390.5 L582.7 1390.5 L585.9 1381.7 L583.1 1381.7Z M595.4 1390.5 L596.5 1390.5 L599.0 1381.7 L597.9 1381.7Z M600.8 1390.5 L602.0 1390.5 L604.8 1381.7 L603.6 1381.7Z M326.0 1407.1 L339.2 1407.1 L354.0 1397.5 L340.8 1397.5Z M355.5 1407.1 L367.1 1407.1 L380.2 1397.5 L368.6 1397.5Z M410.8 1407.1 L420.2 1407.1 L430.9 1397.5 L421.5 1397.5Z M432.2 1407.1 L441.4 1407.1 L451.7 1397.5 L442.5 1397.5Z M475.0 1407.1 L482.1 1407.1 L490.0 1397.5 L482.9 1397.5Z M492.0 1407.1 L498.8 1407.1 L506.4 1397.5 L499.6 1397.5Z M525.2 1407.1 L529.9 1407.1 L535.2 1397.5 L530.5 1397.5Z M537.9 1407.1 L542.5 1407.1 L547.6 1397.5 L543.0 1397.5Z M562.2 1407.1 L565.6 1407.1 L569.5 1397.5 L566.1 1397.5Z M571.3 1407.1 L574.4 1407.1 L578.0 1397.5 L574.9 1397.5Z M589.9 1407.1 L591.1 1407.1 L593.9 1397.5 L592.7 1397.5Z M595.4 1407.1 L596.5 1407.1 L599.0 1397.5 L597.9 1397.5Z M609.0 1407.1 L609.9 1407.1 L612.1 1397.5 L611.2 1397.5Z M354.7 1444.5 L366.0 1444.5 L378.8 1435.8 L367.5 1435.8Z M381.1 1444.5 L391.4 1444.5 L403.0 1435.8 L392.7 1435.8Z M432.2 1444.5 L440.8 1444.5 L450.4 1435.8 L441.8 1435.8Z M453.1 1444.5 L461.0 1444.5 L469.9 1435.8 L462.0 1435.8Z M492.0 1444.5 L498.3 1444.5 L505.5 1435.8 L499.2 1435.8Z M507.8 1444.5 L513.2 1444.5 L519.3 1435.8 L513.9 1435.8Z M537.9 1444.5 L542.4 1444.5 L547.4 1435.8 L542.9 1435.8Z M548.9 1444.5 L552.9 1444.5 L557.4 1435.8 L553.4 1435.8Z M571.3 1444.5 L574.2 1444.5 L577.5 1435.8 L574.6 1435.8Z M579.9 1444.5 L582.7 1444.5 L585.9 1435.8 L583.1 1435.8Z M595.4 1444.5 L596.5 1444.5 L599.0 1435.8 L597.9 1435.8Z M600.8 1444.5 L602.0 1444.5 L604.8 1435.8 L603.6 1435.8Z M326.0 1461.1 L339.2 1461.1 L354.0 1451.5 L340.8 1451.5Z M355.5 1461.1 L367.1 1461.1 L380.2 1451.5 L368.6 1451.5Z M410.8 1461.1 L420.2 1461.1 L430.9 1451.5 L421.5 1451.5Z M432.2 1461.1 L441.4 1461.1 L451.7 1451.5 L442.5 1451.5Z M475.0 1461.1 L482.1 1461.1 L490.0 1451.5 L482.9 1451.5Z M492.0 1461.1 L498.8 1461.1 L506.4 1451.5 L499.6 1451.5Z M525.2 1461.1 L529.9 1461.1 L535.2 1451.5 L530.5 1451.5Z M537.9 1461.1 L542.5 1461.1 L547.6 1451.5 L543.0 1451.5Z M562.2 1461.1 L565.6 1461.1 L569.5 1451.5 L566.1 1451.5Z M571.3 1461.1 L574.4 1461.1 L578.0 1451.5 L574.9 1451.5Z M589.9 1461.1 L591.1 1461.1 L593.9 1451.5 L592.7 1451.5Z M595.4 1461.1 L596.5 1461.1 L599.0 1451.5 L597.9 1451.5Z M609.0 1461.1 L609.9 1461.1 L612.1 1451.5 L611.2 1451.5Z "/>
<path fill="#FA5209" fill-rule="evenodd" d="M2164.6 1489.2 L2164.6 1053.5 L2150.6 1049.0 L2130.6 1043.0 L2110.6 1036.5 L2084.9 1028.0 L2070.3 1028.0 L2059.3 1018.0 L2042.9 1012.4 L2030.2 1011.5 L2019.2 1000.5 L1990.1 987.0 L1968.2 974.0 L1959.1 972.3 L1953.6 962.3 L1946.3 958.2 L1938.1 957.7 L1931.7 946.0 L1913.5 929.4 L1904.4 920.3 L1898.9 919.4 L1895.3 907.6 L1887.0 902.0 L1882.5 887.5 L1873.4 871.0 L1867.0 856.5 L1860.4 845.6 L1855.0 829.2 L1849.5 805.5 L1846.1 780.0 L1843.6 755.0 L1841.1 730.0 L1838.6 700.0 L1837.4 675.0 L1836.1 642.5 L1834.1 630.0 L1831.1 630.0 L1831.1 924.0 L1830.6 924.0 L1830.6 1489.2Z M1895.2 920.6 L1894.1 920.6 L1891.6 911.1 L1892.7 911.1Z M1881.6 920.6 L1880.7 920.6 L1878.5 911.1 L1879.4 911.1Z M1919.3 958.1 L1916.4 958.1 L1913.1 949.3 L1916.0 949.3Z M1910.7 958.1 L1907.9 958.1 L1904.7 949.3 L1907.5 949.3Z M1895.2 958.1 L1894.1 958.1 L1891.6 949.3 L1892.7 949.3Z M1889.8 958.1 L1888.6 958.1 L1885.8 949.3 L1887.0 949.3Z M1952.7 974.7 L1948.1 974.7 L1943.0 965.1 L1947.6 965.1Z M1928.4 974.7 L1925.0 974.7 L1921.1 965.1 L1924.5 965.1Z M1919.3 974.7 L1916.2 974.7 L1912.6 965.1 L1915.7 965.1Z M1900.7 974.7 L1899.5 974.7 L1896.7 965.1 L1897.9 965.1Z M1895.2 974.7 L1894.1 974.7 L1891.6 965.1 L1892.7 965.1Z M1881.6 974.7 L1880.7 974.7 L1878.5 965.1 L1879.4 965.1Z M1998.6 1012.2 L1992.3 1012.2 L1985.1 1003.4 L1991.4 1003.4Z M1982.8 1012.2 L1977.4 1012.2 L1971.3 1003.4 L1976.7 1003.4Z M1952.7 1012.2 L1948.2 1012.2 L1943.2 1003.4 L1947.7 1003.4Z M1941.7 1012.2 L1937.7 1012.2 L1933.2 1003.4 L1937.2 1003.4Z M1919.3 1012.2 L1916.4 1012.2 L1913.1 1003.4 L1916.0 1003.4Z M1910.7 1012.2 L1907.9 1012.2 L1904.7 1003.4 L1907.5 1003.4Z M1895.2 1012.2 L1894.1 1012.2 L1891.6 1003.4 L1892.7 1003.4Z M1889.8 1012.2 L1888.6 1012.2 L1885.8 1003.4 L1887.0 1003.4Z M2058.4 1028.8 L2049.2 1028.8 L2038.9 1019.2 L2048.1 1019.2Z M2015.6 1028.8 L2008.5 1028.8 L2000.6 1019.2 L2007.6 1019.2Z M1998.6 1028.8 L1991.8 1028.8 L1984.2 1019.2 L1991.0 1019.2Z M1965.4 1028.8 L1960.7 1028.8 L1955.4 1019.2 L1960.1 1019.2Z M1952.7 1028.8 L1948.1 1028.8 L1943.0 1019.2 L1947.6 1019.2Z M1928.4 1028.8 L1925.0 1028.8 L1921.1 1019.2 L1924.5 1019.2Z M1919.3 1028.8 L1916.2 1028.8 L1912.6 1019.2 L1915.7 1019.2Z M1900.7 1028.8 L1899.5 1028.8 L1896.7 1019.2 L1897.9 1019.2Z M1895.2 1028.8 L1894.1 1028.8 L1891.6 1019.2 L1892.7 1019.2Z M1881.6 1028.8 L1880.7 1028.8 L1878.5 1019.2 L1879.4 1019.2Z M2135.9 1066.2 L2124.6 1066.2 L2111.8 1057.4 L2123.1 1057.4Z M2109.5 1066.2 L2099.2 1066.2 L2087.6 1057.4 L2097.9 1057.4Z M2058.4 1066.2 L2049.8 1066.2 L2040.2 1057.4 L2048.8 1057.4Z M2037.5 1066.2 L2029.6 1066.2 L2020.7 1057.4 L2028.6 1057.4Z M1998.6 1066.2 L1992.3 1066.2 L1985.1 1057.4 L1991.4 1057.4Z M1982.8 1066.2 L1977.4 1066.2 L1971.3 1057.4 L1976.7 1057.4Z M1952.7 1066.2 L1948.2 1066.2 L1943.2 1057.4 L1947.7 1057.4Z M1941.7 1066.2 L1937.7 1066.2 L1933.2 1057.4 L1937.2 1057.4Z M1919.3 1066.2 L1916.4 1066.2 L1913.1 1057.4 L1916.0 1057.4Z M1910.7 1066.2 L1907.9 1066.2 L1904.7 1057.4 L1907.5 1057.4Z M1895.2 1066.2 L1894.1 1066.2 L1891.6 1057.4 L1892.7 1057.4Z M1889.8 1066.2 L1888.6 1066.2 L1885.8 1057.4 L1887.0 1057.4Z M2164.6 1082.8 L2151.4 1082.8 L2136.6 1073.2 L2149.8 1073.2Z M2135.1 1082.8 L2123.5 1082.8 L2110.4 1073.2 L2122.0 1073.2Z M2079.8 1082.8 L2070.4 1082.8 L2059.7 1073.2 L2069.1 1073.2Z M2058.4 1082.8 L2049.2 1082.8 L2038.9 1073.2 L2048.1 1073.2Z M2015.6 1082.8 L2008.5 1082.8 L2000.6 1073.2 L2007.6 1073.2Z M1998.6 1082.8 L1991.8 1082.8 L1984.2 1073.2 L1991.0 1073.2Z M1965.4 1082.8 L1960.7 1082.8 L1955.4 1073.2 L1960.1 1073.2Z M1952.7 1082.8 L1948.1 1082.8 L1943.0 1073.2 L1947.6 1073.2Z M1928.4 1082.8 L1925.0 1082.8 L1921.1 1073.2 L1924.5 1073.2Z M1919.3 1082.8 L1916.2 1082.8 L1912.6 1073.2 L1915.7 1073.2Z M1900.7 1082.8 L1899.5 1082.8 L1896.7 1073.2 L1897.9 1073.2Z M1895.2 1082.8 L1894.1 1082.8 L1891.6 1073.2 L1892.7 1073.2Z M1881.6 1082.8 L1880.7 1082.8 L1878.5 1073.2 L1879.4 1073.2Z M2135.9 1120.2 L2124.6 1120.2 L2111.8 1111.5 L2123.1 1111.5Z M2109.5 1120.2 L2099.2 1120.2 L2087.6 1111.5 L2097.9 1111.5Z M2058.4 1120.2 L2049.8 1120.2 L2040.2 1111.5 L2048.8 1111.5Z M2037.5 1120.2 L2029.6 1120.2 L2020.7 1111.5 L2028.6 1111.5Z M1998.6 1120.2 L1992.3 1120.2 L1985.1 1111.5 L1991.4 1111.5Z M1982.8 1120.2 L1977.4 1120.2 L1971.3 1111.5 L1976.7 1111.5Z M1952.7 1120.2 L1948.2 1120.2 L1943.2 1111.5 L1947.7 1111.5Z M1941.7 1120.2 L1937.7 1120.2 L1933.2 1111.5 L1937.2 1111.5Z M1919.3 1120.2 L1916.4 1120.2 L1913.1 1111.5 L1916.0 1111.5Z M1910.7 1120.2 L1907.9 1120.2 L1904.7 1111.5 L1907.5 1111.5Z M1895.2 1120.2 L1894.1 1120.2 L1891.6 1111.5 L1892.7 1111.5Z M1889.8 1120.2 L1888.6 1120.2 L1885.8 1111.5 L1887.0 1111.5Z M2164.6 1136.8 L2151.4 1136.8 L2136.6 1127.2 L2149.8 1127.2Z M2135.1 1136.8 L2123.5 1136.8 L2110.4 1127.2 L2122.0 1127.2Z M2079.8 1136.8 L2070.4 1136.8 L2059.7 1127.2 L2069.1 1127.2Z M2058.4 1136.8 L2049.2 1136.8 L2038.9 1127.2 L2048.1 1127.2Z M2015.6 1136.8 L2008.5 1136.8 L2000.6 1127.2 L2007.6 1127.2Z M1998.6 1136.8 L1991.8 1136.8 L1984.2 1127.2 L1991.0 1127.2Z M1965.4 1136.8 L1960.7 1136.8 L1955.4 1127.2 L1960.1 1127.2Z M1952.7 1136.8 L1948.1 1136.8 L1943.0 1127.2 L1947.6 1127.2Z M1928.4 1136.8 L1925.0 1136.8 L1921.1 1127.2 L1924.5 1127.2Z M1919.3 1136.8 L1916.2 1136.8 L1912.6 1127.2 L1915.7 1127.2Z M1900.7 1136.8 L1899.5 1136.8 L1896.7 1127.2 L1897.9 1127.2Z M1895.2 1136.8 L1894.1 1136.8 L1891.6 1127.2 L1892.7 1127.2Z M1881.6 1136.8 L1880.7 1136.8 L1878.5 1127.2 L1879.4 1127.2Z M2135.9 1174.3 L2124.6 1174.3 L2111.8 1165.5 L2123.1 1165.5Z M2109.5 1174.3 L2099.2 1174.3 L2087.6 1165.5 L2097.9 1165.5Z M2058.4 1174.3 L2049.8 1174.3 L2040.2 1165.5 L2048.8 1165.5Z M2037.5 1174.3 L2029.6 1174.3 L2020.7 1165.5 L2028.6 1165.5Z M1998.6 1174.3 L1992.3 1174.3 L1985.1 1165.5 L1991.4 1165.5Z M1982.8 1174.3 L1977.4 1174.3 L1971.3 1165.5 L1976.7 1165.5Z M1952.7 1174.3 L1948.2 1174.3 L1943.2 1165.5 L1947.7 1165.5Z M1941.7 1174.3 L1937.7 1174.3 L1933.2 1165.5 L1937.2 1165.5Z M1919.3 1174.3 L1916.4 1174.3 L1913.1 1165.5 L1916.0 1165.5Z M1910.7 1174.3 L1907.9 1174.3 L1904.7 1165.5 L1907.5 1165.5Z M1895.2 1174.3 L1894.1 1174.3 L1891.6 1165.5 L1892.7 1165.5Z M1889.8 1174.3 L1888.6 1174.3 L1885.8 1165.5 L1887.0 1165.5Z M2164.6 1190.9 L2151.4 1190.9 L2136.6 1181.3 L2149.8 1181.3Z M2135.1 1190.9 L2123.5 1190.9 L2110.4 1181.3 L2122.0 1181.3Z M2079.8 1190.9 L2070.4 1190.9 L2059.7 1181.3 L2069.1 1181.3Z M2058.4 1190.9 L2049.2 1190.9 L2038.9 1181.3 L2048.1 1181.3Z M2015.6 1190.9 L2008.5 1190.9 L2000.6 1181.3 L2007.6 1181.3Z M1998.6 1190.9 L1991.8 1190.9 L1984.2 1181.3 L1991.0 1181.3Z M1965.4 1190.9 L1960.7 1190.9 L1955.4 1181.3 L1960.1 1181.3Z M1952.7 1190.9 L1948.1 1190.9 L1943.0 1181.3 L1947.6 1181.3Z M1928.4 1190.9 L1925.0 1190.9 L1921.1 1181.3 L1924.5 1181.3Z M1919.3 1190.9 L1916.2 1190.9 L1912.6 1181.3 L1915.7 1181.3Z M1900.7 1190.9 L1899.5 1190.9 L1896.7 1181.3 L1897.9 1181.3Z M1895.2 1190.9 L1894.1 1190.9 L1891.6 1181.3 L1892.7 1181.3Z M1881.6 1190.9 L1880.7 1190.9 L1878.5 1181.3 L1879.4 1181.3Z M2135.9 1228.3 L2124.6 1228.3 L2111.8 1219.6 L2123.1 1219.6Z M2109.5 1228.3 L2099.2 1228.3 L2087.6 1219.6 L2097.9 1219.6Z M2058.4 1228.3 L2049.8 1228.3 L2040.2 1219.6 L2048.8 1219.6Z M2037.5 1228.3 L2029.6 1228.3 L2020.7 1219.6 L2028.6 1219.6Z M1998.6 1228.3 L1992.3 1228.3 L1985.1 1219.6 L1991.4 1219.6Z M1982.8 1228.3 L1977.4 1228.3 L1971.3 1219.6 L1976.7 1219.6Z M1952.7 1228.3 L1948.2 1228.3 L1943.2 1219.6 L1947.7 1219.6Z M1941.7 1228.3 L1937.7 1228.3 L1933.2 1219.6 L1937.2 1219.6Z M1919.3 1228.3 L1916.4 1228.3 L1913.1 1219.6 L1916.0 1219.6Z M1910.7 1228.3 L1907.9 1228.3 L1904.7 1219.6 L1907.5 1219.6Z M1895.2 1228.3 L1894.1 1228.3 L1891.6 1219.6 L1892.7 1219.6Z M1889.8 1228.3 L1888.6 1228.3 L1885.8 1219.6 L1887.0 1219.6Z M2164.6 1244.9 L2151.4 1244.9 L2136.6 1235.3 L2149.8 1235.3Z M2135.1 1244.9 L2123.5 1244.9 L2110.4 1235.3 L2122.0 1235.3Z M2079.8 1244.9 L2070.4 1244.9 L2059.7 1235.3 L2069.1 1235.3Z M2058.4 1244.9 L2049.2 1244.9 L2038.9 1235.3 L2048.1 1235.3Z M2015.6 1244.9 L2008.5 1244.9 L2000.6 1235.3 L2007.6 1235.3Z M1998.6 1244.9 L1991.8 1244.9 L1984.2 1235.3 L1991.0 1235.3Z M1965.4 1244.9 L1960.7 1244.9 L1955.4 1235.3 L1960.1 1235.3Z M1952.7 1244.9 L1948.1 1244.9 L1943.0 1235.3 L1947.6 1235.3Z M1928.4 1244.9 L1925.0 1244.9 L1921.1 1235.3 L1924.5 1235.3Z M1919.3 1244.9 L1916.2 1244.9 L1912.6 1235.3 L1915.7 1235.3Z M1900.7 1244.9 L1899.5 1244.9 L1896.7 1235.3 L1897.9 1235.3Z M1895.2 1244.9 L1894.1 1244.9 L1891.6 1235.3 L1892.7 1235.3Z M1881.6 1244.9 L1880.7 1244.9 L1878.5 1235.3 L1879.4 1235.3Z M2135.9 1282.4 L2124.6 1282.4 L2111.8 1273.6 L2123.1 1273.6Z M2109.5 1282.4 L2099.2 1282.4 L2087.6 1273.6 L2097.9 1273.6Z M2058.4 1282.4 L2049.8 1282.4 L2040.2 1273.6 L2048.8 1273.6Z M2037.5 1282.4 L2029.6 1282.4 L2020.7 1273.6 L2028.6 1273.6Z M1998.6 1282.4 L1992.3 1282.4 L1985.1 1273.6 L1991.4 1273.6Z M1982.8 1282.4 L1977.4 1282.4 L1971.3 1273.6 L1976.7 1273.6Z M1952.7 1282.4 L1948.2 1282.4 L1943.2 1273.6 L1947.7 1273.6Z M1941.7 1282.4 L1937.7 1282.4 L1933.2 1273.6 L1937.2 1273.6Z M1919.3 1282.4 L1916.4 1282.4 L1913.1 1273.6 L1916.0 1273.6Z M1910.7 1282.4 L1907.9 1282.4 L1904.7 1273.6 L1907.5 1273.6Z M1895.2 1282.4 L1894.1 1282.4 L1891.6 1273.6 L1892.7 1273.6Z M1889.8 1282.4 L1888.6 1282.4 L1885.8 1273.6 L1887.0 1273.6Z M2164.6 1299.0 L2151.4 1299.0 L2136.6 1289.4 L2149.8 1289.4Z M2135.1 1299.0 L2123.5 1299.0 L2110.4 1289.4 L2122.0 1289.4Z M2079.8 1299.0 L2070.4 1299.0 L2059.7 1289.4 L2069.1 1289.4Z M2058.4 1299.0 L2049.2 1299.0 L2038.9 1289.4 L2048.1 1289.4Z M2015.6 1299.0 L2008.5 1299.0 L2000.6 1289.4 L2007.6 1289.4Z M1998.6 1299.0 L1991.8 1299.0 L1984.2 1289.4 L1991.0 1289.4Z M1965.4 1299.0 L1960.7 1299.0 L1955.4 1289.4 L1960.1 1289.4Z M1952.7 1299.0 L1948.1 1299.0 L1943.0 1289.4 L1947.6 1289.4Z M1928.4 1299.0 L1925.0 1299.0 L1921.1 1289.4 L1924.5 1289.4Z M1919.3 1299.0 L1916.2 1299.0 L1912.6 1289.4 L1915.7 1289.4Z M1900.7 1299.0 L1899.5 1299.0 L1896.7 1289.4 L1897.9 1289.4Z M1895.2 1299.0 L1894.1 1299.0 L1891.6 1289.4 L1892.7 1289.4Z M1881.6 1299.0 L1880.7 1299.0 L1878.5 1289.4 L1879.4 1289.4Z M2135.9 1336.5 L2124.6 1336.5 L2111.8 1327.7 L2123.1 1327.7Z M2109.5 1336.5 L2099.2 1336.5 L2087.6 1327.7 L2097.9 1327.7Z M2058.4 1336.5 L2049.8 1336.5 L2040.2 1327.7 L2048.8 1327.7Z M2037.5 1336.5 L2029.6 1336.5 L2020.7 1327.7 L2028.6 1327.7Z M1998.6 1336.5 L1992.3 1336.5 L1985.1 1327.7 L1991.4 1327.7Z M1982.8 1336.5 L1977.4 1336.5 L1971.3 1327.7 L1976.7 1327.7Z M1952.7 1336.5 L1948.2 1336.5 L1943.2 1327.7 L1947.7 1327.7Z M1941.7 1336.5 L1937.7 1336.5 L1933.2 1327.7 L1937.2 1327.7Z M1919.3 1336.5 L1916.4 1336.5 L1913.1 1327.7 L1916.0 1327.7Z M1910.7 1336.5 L1907.9 1336.5 L1904.7 1327.7 L1907.5 1327.7Z M1895.2 1336.5 L1894.1 1336.5 L1891.6 1327.7 L1892.7 1327.7Z M1889.8 1336.5 L1888.6 1336.5 L1885.8 1327.7 L1887.0 1327.7Z M2164.6 1353.0 L2151.4 1353.0 L2136.6 1343.5 L2149.8 1343.5Z M2135.1 1353.0 L2123.5 1353.0 L2110.4 1343.5 L2122.0 1343.5Z M2079.8 1353.0 L2070.4 1353.0 L2059.7 1343.5 L2069.1 1343.5Z M2058.4 1353.0 L2049.2 1353.0 L2038.9 1343.5 L2048.1 1343.5Z M2015.6 1353.0 L2008.5 1353.0 L2000.6 1343.5 L2007.6 1343.5Z M1998.6 1353.0 L1991.8 1353.0 L1984.2 1343.5 L1991.0 1343.5Z M1965.4 1353.0 L1960.7 1353.0 L1955.4 1343.5 L1960.1 1343.5Z M1952.7 1353.0 L1948.1 1353.0 L1943.0 1343.5 L1947.6 1343.5Z M1928.4 1353.0 L1925.0 1353.0 L1921.1 1343.5 L1924.5 1343.5Z M1919.3 1353.0 L1916.2 1353.0 L1912.6 1343.5 L1915.7 1343.5Z M1900.7 1353.0 L1899.5 1353.0 L1896.7 1343.5 L1897.9 1343.5Z M1895.2 1353.0 L1894.1 1353.0 L1891.6 1343.5 L1892.7 1343.5Z M1881.6 1353.0 L1880.7 1353.0 L1878.5 1343.5 L1879.4 1343.5Z M2135.9 1390.5 L2124.6 1390.5 L2111.8 1381.7 L2123.1 1381.7Z M2109.5 1390.5 L2099.2 1390.5 L2087.6 1381.7 L2097.9 1381.7Z M2058.4 1390.5 L2049.8 1390.5 L2040.2 1381.7 L2048.8 1381.7Z M2037.5 1390.5 L2029.6 1390.5 L2020.7 1381.7 L2028.6 1381.7Z M1998.6 1390.5 L1992.3 1390.5 L1985.1 1381.7 L1991.4 1381.7Z M1982.8 1390.5 L1977.4 1390.5 L1971.3 1381.7 L1976.7 1381.7Z M1952.7 1390.5 L1948.2 1390.5 L1943.2 1381.7 L1947.7 1381.7Z M1941.7 1390.5 L1937.7 1390.5 L1933.2 1381.7 L1937.2 1381.7Z M1919.3 1390.5 L1916.4 1390.5 L1913.1 1381.7 L1916.0 1381.7Z M1910.7 1390.5 L1907.9 1390.5 L1904.7 1381.7 L1907.5 1381.7Z M1895.2 1390.5 L1894.1 1390.5 L1891.6 1381.7 L1892.7 1381.7Z M1889.8 1390.5 L1888.6 1390.5 L1885.8 1381.7 L1887.0 1381.7Z M2164.6 1407.1 L2151.4 1407.1 L2136.6 1397.5 L2149.8 1397.5Z M2135.1 1407.1 L2123.5 1407.1 L2110.4 1397.5 L2122.0 1397.5Z M2079.8 1407.1 L2070.4 1407.1 L2059.7 1397.5 L2069.1 1397.5Z M2058.4 1407.1 L2049.2 1407.1 L2038.9 1397.5 L2048.1 1397.5Z M2015.6 1407.1 L2008.5 1407.1 L2000.6 1397.5 L2007.6 1397.5Z M1998.6 1407.1 L1991.8 1407.1 L1984.2 1397.5 L1991.0 1397.5Z M1965.4 1407.1 L1960.7 1407.1 L1955.4 1397.5 L1960.1 1397.5Z M1952.7 1407.1 L1948.1 1407.1 L1943.0 1397.5 L1947.6 1397.5Z M1928.4 1407.1 L1925.0 1407.1 L1921.1 1397.5 L1924.5 1397.5Z M1919.3 1407.1 L1916.2 1407.1 L1912.6 1397.5 L1915.7 1397.5Z M1900.7 1407.1 L1899.5 1407.1 L1896.7 1397.5 L1897.9 1397.5Z M1895.2 1407.1 L1894.1 1407.1 L1891.6 1397.5 L1892.7 1397.5Z M1881.6 1407.1 L1880.7 1407.1 L1878.5 1397.5 L1879.4 1397.5Z M2135.9 1444.5 L2124.6 1444.5 L2111.8 1435.8 L2123.1 1435.8Z M2109.5 1444.5 L2099.2 1444.5 L2087.6 1435.8 L2097.9 1435.8Z M2058.4 1444.5 L2049.8 1444.5 L2040.2 1435.8 L2048.8 1435.8Z M2037.5 1444.5 L2029.6 1444.5 L2020.7 1435.8 L2028.6 1435.8Z M1998.6 1444.5 L1992.3 1444.5 L1985.1 1435.8 L1991.4 1435.8Z M1982.8 1444.5 L1977.4 1444.5 L1971.3 1435.8 L1976.7 1435.8Z M1952.7 1444.5 L1948.2 1444.5 L1943.2 1435.8 L1947.7 1435.8Z M1941.7 1444.5 L1937.7 1444.5 L1933.2 1435.8 L1937.2 1435.8Z M1919.3 1444.5 L1916.4 1444.5 L1913.1 1435.8 L1916.0 1435.8Z M1910.7 1444.5 L1907.9 1444.5 L1904.7 1435.8 L1907.5 1435.8Z M1895.2 1444.5 L1894.1 1444.5 L1891.6 1435.8 L1892.7 1435.8Z M1889.8 1444.5 L1888.6 1444.5 L1885.8 1435.8 L1887.0 1435.8Z M2164.6 1461.1 L2151.4 1461.1 L2136.6 1451.5 L2149.8 1451.5Z M2135.1 1461.1 L2123.5 1461.1 L2110.4 1451.5 L2122.0 1451.5Z M2079.8 1461.1 L2070.4 1461.1 L2059.7 1451.5 L2069.1 1451.5Z M2058.4 1461.1 L2049.2 1461.1 L2038.9 1451.5 L2048.1 1451.5Z M2015.6 1461.1 L2008.5 1461.1 L2000.6 1451.5 L2007.6 1451.5Z M1998.6 1461.1 L1991.8 1461.1 L1984.2 1451.5 L1991.0 1451.5Z M1965.4 1461.1 L1960.7 1461.1 L1955.4 1451.5 L1960.1 1451.5Z M1952.7 1461.1 L1948.1 1461.1 L1943.0 1451.5 L1947.6 1451.5Z M1928.4 1461.1 L1925.0 1461.1 L1921.1 1451.5 L1924.5 1451.5Z M1919.3 1461.1 L1916.2 1461.1 L1912.6 1451.5 L1915.7 1451.5Z M1900.7 1461.1 L1899.5 1461.1 L1896.7 1451.5 L1897.9 1451.5Z M1895.2 1461.1 L1894.1 1461.1 L1891.6 1451.5 L1892.7 1451.5Z M1881.6 1461.1 L1880.7 1461.1 L1878.5 1451.5 L1879.4 1451.5Z "/>
<rect x="657.0" y="416.0" width="10.0" height="4.0" fill="#FA5209"/>
<rect x="657.0" y="416.0" width="4.0" height="8.6" fill="#FA5209"/>
<rect x="669.0" y="416.0" width="7.0" height="4.0" fill="#FA5209"/>
<rect x="681.7" y="416.0" width="26.3" height="4.0" fill="#FA5209"/>
<rect x="715.9" y="416.0" width="7.8" height="4.0" fill="#FA5209"/>
<rect x="731.9" y="416.0" width="28.0" height="4.0" fill="#FA5209"/>
<rect x="768.8" y="416.0" width="7.9" height="4.0" fill="#FA5209"/>
<rect x="785.2" y="416.0" width="28.0" height="4.0" fill="#FA5209"/>
<rect x="822.1" y="416.0" width="7.9" height="4.0" fill="#FA5209"/>
<rect x="839.0" y="416.0" width="28.0" height="4.0" fill="#FA5209"/>
<rect x="875.9" y="416.0" width="7.9" height="4.0" fill="#FA5209"/>
<rect x="893.0" y="416.0" width="28.0" height="4.0" fill="#FA5209"/>
<rect x="929.9" y="416.0" width="7.9" height="4.0" fill="#FA5209"/>
<rect x="946.8" y="416.0" width="28.0" height="4.0" fill="#FA5209"/>
<rect x="983.7" y="416.0" width="7.9" height="4.0" fill="#FA5209"/>
<rect x="1000.9" y="416.0" width="28.0" height="4.0" fill="#FA5209"/>
<rect x="1037.8" y="416.0" width="7.9" height="4.0" fill="#FA5209"/>
<rect x="1054.9" y="416.0" width="28.0" height="4.0" fill="#FA5209"/>
<rect x="1091.8" y="416.0" width="7.9" height="4.0" fill="#FA5209"/>
<rect x="1109.0" y="416.0" width="28.0" height="4.0" fill="#FA5209"/>
<rect x="1145.9" y="416.0" width="7.9" height="4.0" fill="#FA5209"/>
<rect x="1162.9" y="416.0" width="28.0" height="4.0" fill="#FA5209"/>
<rect x="1199.8" y="416.0" width="7.9" height="4.0" fill="#FA5209"/>
<rect x="1216.9" y="416.0" width="28.0" height="4.0" fill="#FA5209"/>
<rect x="1253.8" y="416.0" width="7.9" height="4.0" fill="#FA5209"/>
<rect x="1271.2" y="416.0" width="28.0" height="4.0" fill="#FA5209"/>
<rect x="1308.1" y="416.0" width="7.9" height="4.0" fill="#FA5209"/>
<rect x="1325.1" y="416.0" width="28.0" height="4.0" fill="#FA5209"/>
<rect x="1362.0" y="416.0" width="7.9" height="4.0" fill="#FA5209"/>
<rect x="1379.1" y="416.0" width="28.0" height="4.0" fill="#FA5209"/>
<rect x="1416.0" y="416.0" width="7.9" height="4.0" fill="#FA5209"/>
<rect x="1432.9" y="416.0" width="28.0" height="4.0" fill="#FA5209"/>
<rect x="1469.8" y="416.0" width="7.9" height="4.0" fill="#FA5209"/>
<rect x="1487.0" y="416.0" width="28.0" height="4.0" fill="#FA5209"/>
<rect x="1523.9" y="416.0" width="7.9" height="4.0" fill="#FA5209"/>
<rect x="1541.1" y="416.0" width="28.0" height="4.0" fill="#FA5209"/>
<rect x="1578.0" y="416.0" width="7.9" height="4.0" fill="#FA5209"/>
<rect x="1595.1" y="416.0" width="28.0" height="4.0" fill="#FA5209"/>
<rect x="1632.0" y="416.0" width="7.9" height="4.0" fill="#FA5209"/>
<rect x="1649.0" y="416.0" width="28.0" height="4.0" fill="#FA5209"/>
<rect x="1685.9" y="416.0" width="7.9" height="4.0" fill="#FA5209"/>
<rect x="1702.0" y="416.0" width="28.0" height="4.0" fill="#FA5209"/>
<rect x="1738.9" y="416.0" width="7.9" height="4.0" fill="#FA5209"/>
<rect x="1755.4" y="416.0" width="27.4" height="4.0" fill="#FA5209"/>
<rect x="1791.2" y="416.0" width="7.7" height="4.0" fill="#FA5209"/>
<rect x="1805.5" y="416.0" width="28.1" height="4.0" fill="#FA5209"/>
<rect x="1830.0" y="416.0" width="4.0" height="8.6" fill="#FA5209"/>
<rect x="657.0" y="434.0" width="4.0" height="28.0" fill="#FA5209"/>
<rect x="657.0" y="471.0" width="4.0" height="8.0" fill="#FA5209"/>
<rect x="657.0" y="487.5" width="4.0" height="27.5" fill="#FA5209"/>
<rect x="657.0" y="525.0" width="4.0" height="7.5" fill="#FA5209"/>
<rect x="657.0" y="542.5" width="4.0" height="27.5" fill="#FA5209"/>
<rect x="657.0" y="580.0" width="4.0" height="7.5" fill="#FA5209"/>
<rect x="657.0" y="596.0" width="4.0" height="36.0" fill="#FA5209"/>
<rect x="1830.0" y="420.0" width="4.0" height="13.7" fill="#FA5209"/>
<rect x="1830.0" y="442.6" width="4.0" height="8.2" fill="#FA5209"/>
<rect x="1830.0" y="459.7" width="4.0" height="27.9" fill="#FA5209"/>
<rect x="1830.0" y="497.0" width="4.0" height="7.8" fill="#FA5209"/>
<rect x="1830.0" y="514.0" width="4.0" height="27.6" fill="#FA5209"/>
<rect x="1830.0" y="551.0" width="4.0" height="7.7" fill="#FA5209"/>
<rect x="1830.0" y="567.9" width="4.0" height="28.0" fill="#FA5209"/>
<rect x="1830.0" y="599.0" width="4.0" height="35.0" fill="#FA5209"/>
<rect x="1603" y="101" width="518" height="200" fill="#1f1f1f"/>
<rect x="1607" y="105" width="510" height="192" fill="#ffffff"/>
<rect x="1622" y="152" width="170" height="8" fill="#0000FF"/>
<rect x="1622" y="244" width="28" height="4" fill="#FA5209"/>
<rect x="1659" y="244" width="8" height="4" fill="#FA5209"/>
<rect x="1676" y="244" width="28" height="4" fill="#FA5209"/>
<rect x="1713" y="244" width="8" height="4" fill="#FA5209"/>
<rect x="1730" y="244" width="28" height="4" fill="#FA5209"/>
<rect x="1767" y="244" width="8" height="4" fill="#FA5209"/>
<rect x="1784" y="244" width="8" height="4" fill="#FA5209"/>
</g>
<text transform="translate(182.8 86.0) scale(1.31 1.15)" font-size="70" fill="#262626">−</text><text x="234.8" y="76.6" font-size="69.5" fill="#262626" stroke="#262626" stroke-width="0.6" textLength="68.4" lengthAdjust="spacing">40</text>
<text transform="translate(182.8 264.6) scale(1.31 1.15)" font-size="70" fill="#262626">−</text><text x="234.8" y="255.2" font-size="69.5" fill="#262626" stroke="#262626" stroke-width="0.6" textLength="68.4" lengthAdjust="spacing">50</text>
<text transform="translate(182.8 443.2) scale(1.31 1.15)" font-size="70" fill="#262626">−</text><text x="234.8" y="433.8" font-size="69.5" fill="#262626" stroke="#262626" stroke-width="0.6" textLength="68.4" lengthAdjust="spacing">60</text>
<text transform="translate(182.8 621.9) scale(1.31 1.15)" font-size="70" fill="#262626">−</text><text x="234.8" y="612.5" font-size="69.5" fill="#262626" stroke="#262626" stroke-width="0.6" textLength="68.4" lengthAdjust="spacing">70</text>
<text transform="translate(182.8 800.5) scale(1.31 1.15)" font-size="70" fill="#262626">−</text><text x="234.8" y="791.1" font-size="69.5" fill="#262626" stroke="#262626" stroke-width="0.6" textLength="68.4" lengthAdjust="spacing">80</text>
<text transform="translate(182.8 979.1) scale(1.31 1.15)" font-size="70" fill="#262626">−</text><text x="234.8" y="969.7" font-size="69.5" fill="#262626" stroke="#262626" stroke-width="0.6" textLength="68.4" lengthAdjust="spacing">90</text>
<text transform="translate(148.6 1157.7) scale(1.31 1.15)" font-size="70" fill="#262626">−</text><text x="200.6" y="1148.3" font-size="69.5" fill="#262626" stroke="#262626" stroke-width="0.6" textLength="102.6" lengthAdjust="spacing">100</text>
<text transform="translate(148.6 1336.3) scale(1.31 1.15)" font-size="70" fill="#262626">−</text><text x="200.6" y="1326.9" font-size="69.5" fill="#262626" stroke="#262626" stroke-width="0.6" textLength="102.6" lengthAdjust="spacing">110</text>
<text transform="translate(148.6 1515.0) scale(1.31 1.15)" font-size="70" fill="#262626">−</text><text x="200.6" y="1505.6" font-size="69.5" fill="#262626" stroke="#262626" stroke-width="0.6" textLength="102.6" lengthAdjust="spacing">120</text>
<text transform="translate(257.5 1580.8) scale(1.31 1.15)" font-size="70" fill="#262626">−</text><text x="309.5" y="1571.4" font-size="69.5" fill="#262626" stroke="#262626" stroke-width="0.6" textLength="86.2" lengthAdjust="spacing">0.8</text>
<text transform="translate(487.0 1580.8) scale(1.31 1.15)" font-size="70" fill="#262626">−</text><text x="539.0" y="1571.4" font-size="69.5" fill="#262626" stroke="#262626" stroke-width="0.6" textLength="86.2" lengthAdjust="spacing">0.6</text>
<text transform="translate(716.5 1580.8) scale(1.31 1.15)" font-size="70" fill="#262626">−</text><text x="768.5" y="1571.4" font-size="69.5" fill="#262626" stroke="#262626" stroke-width="0.6" textLength="86.2" lengthAdjust="spacing">0.4</text>
<text transform="translate(946.0 1580.8) scale(1.31 1.15)" font-size="70" fill="#262626">−</text><text x="998.0" y="1571.4" font-size="69.5" fill="#262626" stroke="#262626" stroke-width="0.6" textLength="86.2" lengthAdjust="spacing">0.2</text>
<text x="1227.9" y="1571.4" font-size="69.5" fill="#262626" stroke="#262626" stroke-width="0.6" textLength="34.2" lengthAdjust="spacing">0</text>
<text x="1431.4" y="1571.4" font-size="69.5" fill="#262626" stroke="#262626" stroke-width="0.6" textLength="86.2" lengthAdjust="spacing">0.2</text>
<text x="1660.9" y="1571.4" font-size="69.5" fill="#262626" stroke="#262626" stroke-width="0.6" textLength="86.2" lengthAdjust="spacing">0.4</text>
<text x="1890.4" y="1571.4" font-size="69.5" fill="#262626" stroke="#262626" stroke-width="0.6" textLength="86.2" lengthAdjust="spacing">0.6</text>
<text x="2119.9" y="1571.4" font-size="69.5" fill="#262626" stroke="#262626" stroke-width="0.6" textLength="86.2" lengthAdjust="spacing">0.8</text>
<text y="1667.6" font-size="77" fill="#404040"><tspan x="952.8" textLength="344.5" lengthAdjust="spacingAndGlyphs">Frequency</tspan> <tspan x="1318.0" textLength="219.0" lengthAdjust="spacingAndGlyphs">(MHz)</tspan></text>
<text transform="translate(94 1022.2) rotate(-90)" y="0" font-size="77" fill="#404040"><tspan x="-2.0" textLength="143.9" lengthAdjust="spacingAndGlyphs">PSD</tspan> <tspan x="159.0" textLength="336.2" lengthAdjust="spacingAndGlyphs">(dBW/Hz)</tspan></text>
<text y="169.6" font-size="63" fill="#000"><tspan x="1800.8" textLength="297.4" lengthAdjust="spacingAndGlyphs">Simulation</tspan></text>
<text y="260.4" font-size="63" fill="#000"><tspan x="1804.0" textLength="192.0" lengthAdjust="spacingAndGlyphs">Theory</tspan></text>
</svg></body></html>
